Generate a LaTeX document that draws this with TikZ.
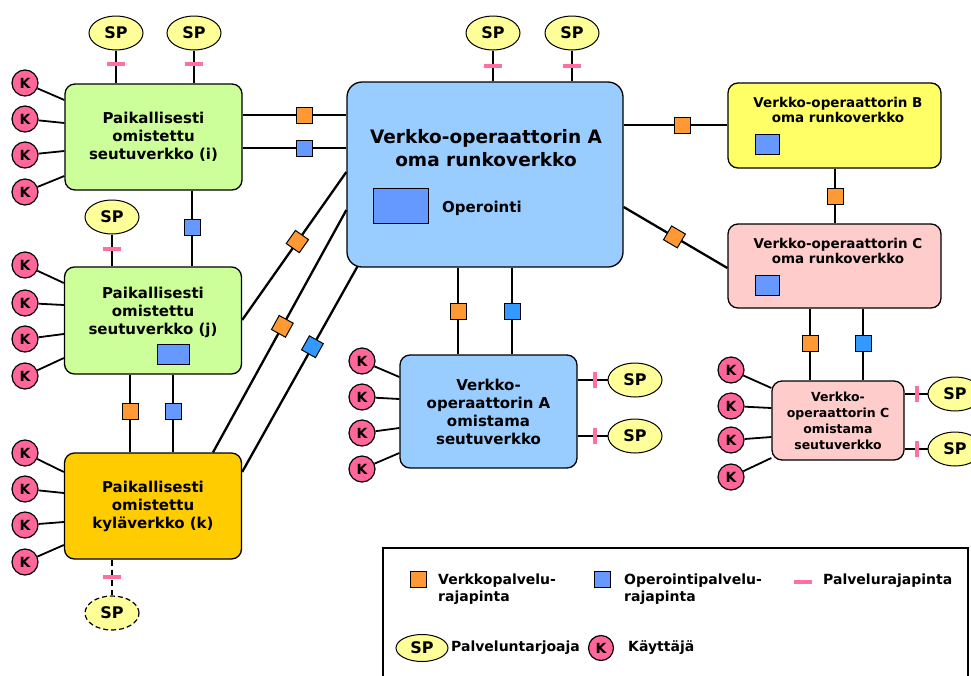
\documentclass[tikz,border=0pt]{standalone}
\usepackage{fontspec}
\setmainfont{DejaVu Sans}
\usetikzlibrary{positioning}
\usetikzlibrary{shapes}

\definecolor{lgreen}{HTML}{CCFF99}
\definecolor{lblue}{HTML}{99CCFF}
\definecolor{kylaorange}{HTML}{FFCC00}
\definecolor{byellow}{HTML}{FFFF66}
\definecolor{cpink}{HTML}{FFCCCC}
\definecolor{spyellow}{HTML}{FFFF99}
\definecolor{kpink}{HTML}{FF6699}
\definecolor{tickpink}{HTML}{FF6F9F}
\definecolor{netorange}{HTML}{FF9933}
\definecolor{opblue}{HTML}{6699FF}
\definecolor{opblue2}{HTML}{3399FF}

\begin{document}
\begin{tikzpicture}[x=1pt, y=-1pt,
        netbox/.style={rectangle, draw, line width=1.3pt, rounded corners=10pt, inner sep=0pt, align=center, font=\fontsize{15}{18}\selectfont\bfseries},
        txt/.style={align=center, inner sep=0pt, font=\fontsize{15}{18}\selectfont\bfseries},
        legtxt/.style={anchor=west, align=left, inner sep=0pt, font=\fontsize{14}{17}\selectfont\bfseries},
        kk/.style={circle, draw, line width=1.2pt, fill=kpink, minimum size=26pt, inner sep=0pt, font=\fontsize{14}{14}\selectfont\bfseries},
        sp/.style={ellipse, draw, line width=1pt, fill=spyellow, minimum width=54pt, minimum height=34pt, inner sep=0pt, font=\fontsize{16}{16}\selectfont\bfseries},
        nsq/.style={rectangle, draw, line width=1pt, fill=netorange, minimum size=16pt, inner sep=0pt},
        osq/.style={rectangle, draw, line width=1pt, fill=opblue, minimum size=16pt, inner sep=0pt},
        htick/.style={rectangle, fill=tickpink, minimum width=18pt, minimum height=4pt, inner sep=0pt},
        vtick/.style={rectangle, fill=tickpink, minimum width=4pt, minimum height=16pt, inner sep=0pt},
        link/.style={line width=2.3pt},
        thin link/.style={line width=1.8pt}
    ]
    \useasboundingbox (0,0) rectangle (971,675);

    % boxes
    \node[netbox, fill=lgreen, minimum width=177pt, minimum height=106pt] (ibox) at (153.5,137) {Paikallisesti\\omistettu\\seutuverkko (i)};
    \node[netbox, fill=lgreen, minimum width=177pt, minimum height=107pt] (jbox) at (153,320.5) {};
    \node[txt] (jtxt) at (153,312) {Paikallisesti\\omistettu\\seutuverkko (j)};
    \node[osq, minimum width=32pt, minimum height=20pt] (jop) at (173,354) {};
    \node[netbox, fill=kylaorange, minimum width=177pt, minimum height=106pt] (kbox) at (153,506) {Paikallisesti\\omistettu\\kyläverkko (k)};

    \node[netbox, fill=lblue, rounded corners=15pt, minimum width=276pt, minimum height=185pt] (Abox) at (485,174.5) {};
    \node[txt, font=\fontsize{18.5}{23}\selectfont\bfseries] (Atxt) at (486,148) {Verkko-operaattorin A\\oma runkoverkko};
    \node[osq, minimum width=55pt, minimum height=35pt] (Aop) at (400.5,205.5) {};
    \node[txt, anchor=west] (Aoptxt) at (442,208) {Operointi};

    \node[netbox, fill=byellow, minimum width=213pt, minimum height=85pt] (Bbox) at (834.5,125.5) {};
    \node[txt, font=\fontsize{13.5}{15.5}\selectfont\bfseries] (Btxt) at (838,110) {Verkko-operaattorin B\\oma runkoverkko};
    \node[osq, minimum width=24pt, minimum height=20pt] (Bop) at (767,144) {};

    \node[netbox, fill=cpink, minimum width=213pt, minimum height=84pt] (Cbox) at (834.5,266) {};
    \node[txt, font=\fontsize{13.5}{15.5}\selectfont\bfseries] (Ctxt) at (838,251) {Verkko-operaattorin C\\oma runkoverkko};
    \node[osq, minimum width=24pt, minimum height=20pt] (Cop) at (767,285) {};

    \node[netbox, fill=lblue, minimum width=177pt, minimum height=113pt] (Aseutu) at (488.5,411.5) {Verkko-\\operaattorin A\\omistama\\seutuverkko};
    \node[netbox, fill=cpink, minimum width=132pt, minimum height=79pt, font=\fontsize{12.5}{16}\selectfont\bfseries] (Cseutu) at (838,420.5) {Verkko-\\operaattorin C\\omistama\\seutuverkko};

    % users
    \foreach \y/\t [count=\n] in {83/100, 119/123, 155/151, 192/176} {
        \node[kk] (ki\n) at (25,\y) {K};
        \draw[thin link] (ki\n) -- (ibox.west |- 0,\t);
    }
    \foreach \y/\t [count=\n] in {265/283, 303/305, 339/334, 376/358} {
        \node[kk] (kj\n) at (25,\y) {K};
        \draw[thin link] (kj\n) -- (jbox.west |- 0,\t);
    }
    \foreach \y/\t [count=\n] in {453/472, 489/493, 525/522, 562/545} {
        \node[kk] (kk\n) at (25,\y) {K};
        \draw[thin link] (kk\n) -- (kbox.west |- 0,\t);
    }
    \foreach \y/\t [count=\n] in {361/377, 397/399, 433/428, 469/453} {
        \node[kk] (ka\n) at (362,\y) {K};
        \draw[thin link] (ka\n) -- (Aseutu.west |- 0,\t);
    }
    \foreach \y/\t [count=\n] in {370/388, 406/408, 440/437, 477/458} {
        \node[kk] (kc\n) at (731,\y) {K};
        \draw[thin link] (kc\n) -- (Cseutu.west |- 0,\t);
    }

    % service providers
    \node[sp] (spi1) at (116,33) {SP};
    \node[sp] (spi2) at (194,33) {SP};
    \node[sp] (spj) at (112,217) {SP};
    \node[sp, dash pattern=on 5pt off 3pt, line width=1.2pt] (spk) at (112,613) {SP};
    \node[sp] (spA1) at (493,33) {SP};
    \node[sp] (spA2) at (572,33) {SP};
    \node[sp] (spa1) at (635,380) {SP};
    \node[sp] (spa2) at (635,436) {SP};
    \node[sp] (spc1) at (955,394) {SP};
    \node[sp] (spc2) at (955,449) {SP};

    \draw[thin link] (spi1) -- node[htick, pos=0.41] {} (ibox.north -| spi1);
    \draw[thin link] (spi2) -- node[htick, pos=0.41] {} (ibox.north -| spi2);
    \draw[thin link] (spj) -- node[htick, pos=0.45] {} (jbox.north -| spj);
    \draw[thin link, dash pattern=on 6pt off 4pt] (kbox.south -| spk) -- node[htick, pos=0.49] {} (spk);
    \draw[thin link] (spA1) -- node[htick, pos=0.5] {} (Abox.north -| spA1);
    \draw[thin link] (spA2) -- node[htick, pos=0.5] {} (Abox.north -| spA2);
    \draw[thin link] (Aseutu.east |- spa1) -- node[vtick, pos=0.58] {} (spa1);
    \draw[thin link] (Aseutu.east |- spa2) -- node[vtick, pos=0.58] {} (spa2);
    \draw[thin link] (Cseutu.east |- spc1) -- node[vtick, pos=0.54] {} (spc1);
    \draw[thin link] (Cseutu.east |- spc2) -- node[vtick, pos=0.54] {} (spc2);

    % interfaces between networks
    \draw[link] (ibox.east |- 0,115) -- node[nsq, pos=0.6] {} (Abox.west |- 0,115);
    \draw[link] (ibox.east |- 0,148) -- node[osq, pos=0.6] {} (Abox.west |- 0,148);
    \draw[link] (ibox.south -| 192,0) -- node[osq, pos=0.49] {} (jbox.north -| 192,0);
    \draw[link] (jbox.south -| 130,0) -- node[nsq, pos=0.48] {} (kbox.north -| 130,0);
    \draw[link] (jbox.south -| 173,0) -- node[osq, pos=0.48] {} (kbox.north -| 173,0);
    \draw[link] (jbox.east |- 0,320) -- node[nsq, sloped, pos=0.53] {} (Abox.west |- 0,172);
    \draw[link] (kbox.north -| 213,0) -- node[nsq, sloped, pos=0.52] {} (Abox.west |- 0,210);
    \draw[link] (kbox.east |- 0,472) -- node[osq, fill=opblue2, sloped, pos=0.61] {} ([xshift=11pt, yshift=1pt]Abox.south west);
    \draw[link] (Abox.east |- 0,125) -- node[nsq, pos=0.57] {} (Bbox.west |- 0,125);
    \draw[link] (Abox.east |- 0,207) -- node[nsq, sloped, pos=0.49] {} (Cbox.west |- 0,268);
    \draw[link] (Bbox.south -| 835,0) -- node[nsq, pos=0.5] {} (Cbox.north -| 835,0);
    \draw[link] (Abox.south -| 458,0) -- node[nsq, pos=0.5] {} (Aseutu.north -| 458,0);
    \draw[link] (Abox.south -| 512,0) -- node[osq, fill=opblue2, pos=0.5] {} (Aseutu.north -| 512,0);
    \draw[link] (Cbox.south -| 810,0) -- node[nsq, pos=0.49] {} (Cseutu.north -| 810,0);
    \draw[link] (Cbox.south -| 863,0) -- node[osq, fill=opblue2, pos=0.49] {} (Cseutu.north -| 863,0);

    % legend
    \node[rectangle, draw, line width=1.5pt, minimum width=585pt, minimum height=134pt, inner sep=0pt] (legend) at (675.5,615) {};
    \node[nsq] (lgnsq) at (418,579) {};
    \node[legtxt] (lgnet) at (438,589) {Verkkopalvelu-\\rajapinta};
    \node[osq] (lgosq) at (602,579) {};
    \node[legtxt] (lgop) at (624,589) {Operointipalvelu-\\rajapinta};
    \node[htick] (lgtick) at (803,582) {};
    \node[legtxt] (lgserv) at (823,581) {Palvelurajapinta};
    \node[sp, minimum width=52pt, minimum height=27pt] (lgsp) at (422,648) {SP};
    \node[legtxt] (lgsptxt) at (451,648) {Palveluntarjoaja};
    \node[kk, minimum size=25pt] (lgk) at (601,648) {K};
    \node[legtxt] (lgktxt) at (628,648) {Käyttäjä};
\end{tikzpicture}
\end{document}
